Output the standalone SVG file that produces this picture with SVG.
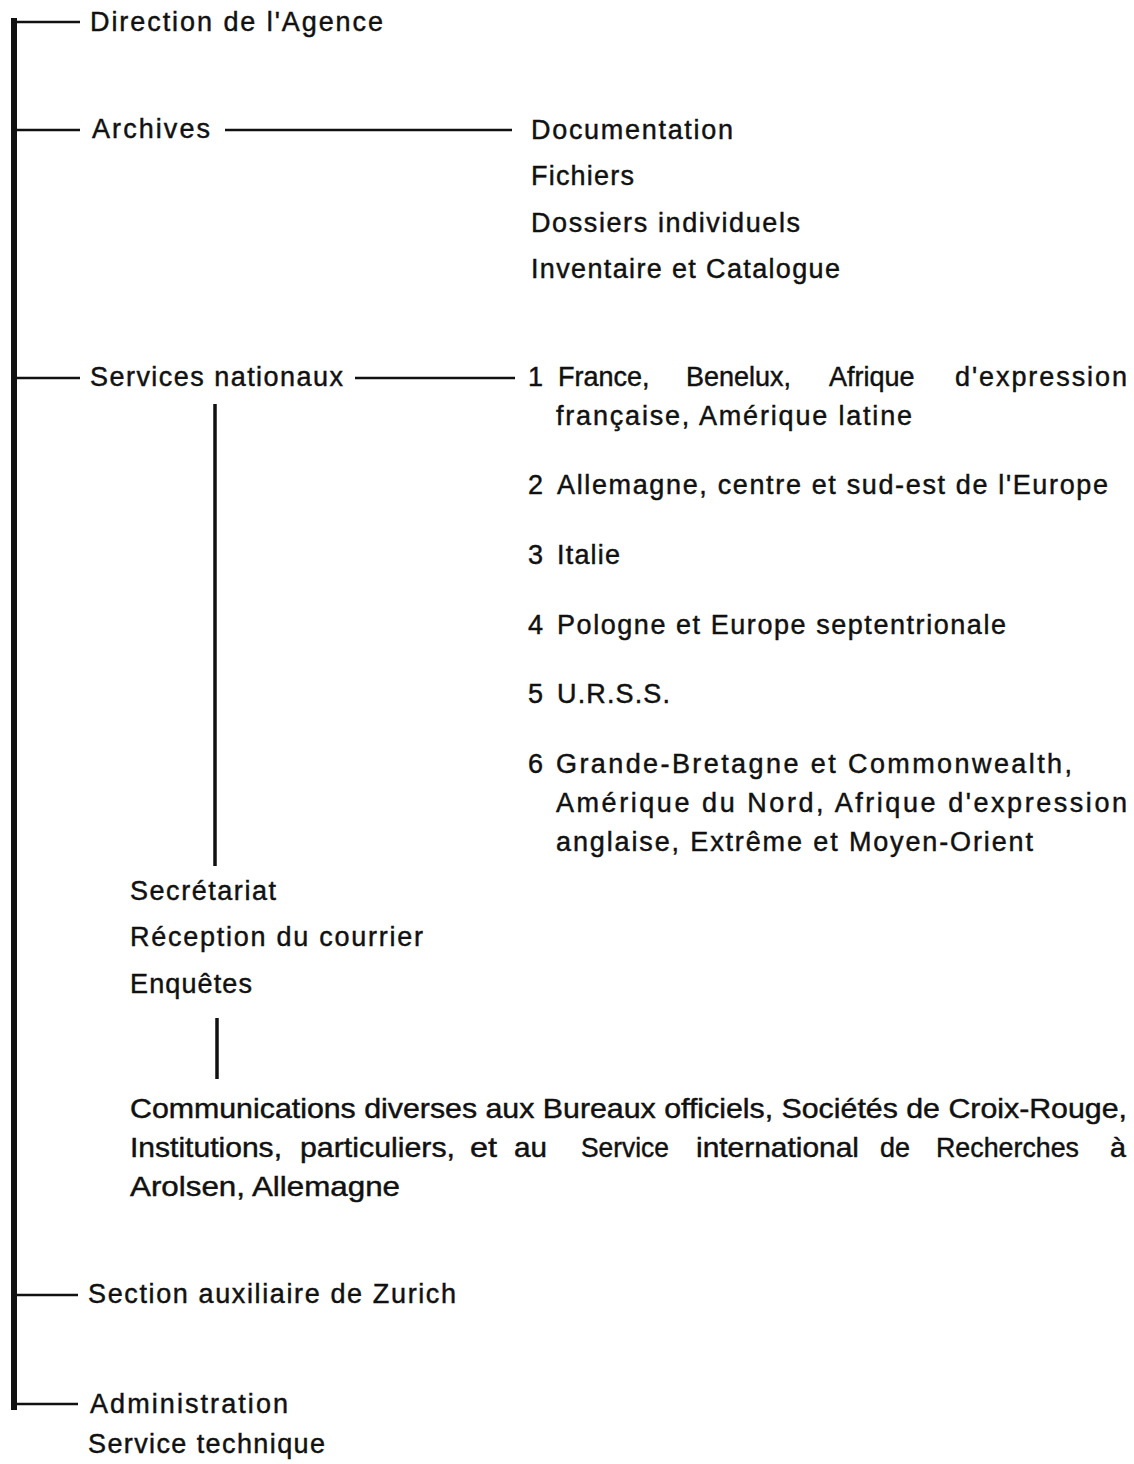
<svg xmlns="http://www.w3.org/2000/svg" width="1134" height="1464" viewBox="0 0 1134 1464">
<style>
  text { font-family: "Liberation Sans", Arial, sans-serif; font-size: 27px; fill: #111; stroke: #111; stroke-width: 0.45; }
  .cond { font-size: 28px; }
  .tick { stroke: #111; stroke-width: 2.5; fill: none; }
  .vline { stroke: #111; stroke-width: 3.5; fill: none; }
</style>
<rect width="1134" height="1464" fill="#fff"/>
<g id="connectors">
  <rect x="11" y="18" width="6" height="1392" fill="#111"/>
  <line class="tick" x1="17" y1="22" x2="80" y2="22"/>
  <line class="tick" x1="17" y1="130" x2="80" y2="130"/>
  <line class="tick" x1="17" y1="378" x2="80" y2="378"/>
  <line class="tick" x1="17" y1="1295" x2="78" y2="1295"/>
  <line class="tick" x1="17" y1="1404" x2="78" y2="1404"/>
  <line class="tick" x1="225" y1="130" x2="512" y2="130"/>
  <line class="tick" x1="355" y1="378" x2="515" y2="378"/>
  <line class="vline" x1="215" y1="404" x2="215" y2="866"/>
  <line class="vline" x1="217" y1="1018" x2="217" y2="1079"/>
</g>
<g id="direction">
  <text x="90" y="31" textLength="293" lengthAdjust="spacing">Direction de l'Agence</text>
</g>
<g id="archives">
  <text x="92" y="138" textLength="118" lengthAdjust="spacing">Archives</text>
</g>
<g id="archives-sub">
  <text x="531" y="139" textLength="202" lengthAdjust="spacing">Documentation</text>
  <text x="531" y="185" textLength="103" lengthAdjust="spacing">Fichiers</text>
  <text x="531" y="232" textLength="269" lengthAdjust="spacing">Dossiers individuels</text>
  <text x="531" y="278" textLength="309" lengthAdjust="spacing">Inventaire et Catalogue</text>
</g>
<g id="services">
  <text x="90" y="386" textLength="253" lengthAdjust="spacing">Services nationaux</text>
</g>
<g id="services-sub">
  <text x="528" y="386">1</text>
  <text x="558" y="386">France,</text>
  <text x="686" y="386">Benelux,</text>
  <text x="829" y="386">Afrique</text>
  <text x="955" y="386" textLength="172" lengthAdjust="spacing">d'expression</text>
  <text x="556" y="425" textLength="356" lengthAdjust="spacing">française, Amérique latine</text>
  <text x="528" y="494">2</text>
  <text x="557" y="494" textLength="551" lengthAdjust="spacing">Allemagne, centre et sud-est de l'Europe</text>
  <text x="528" y="564">3</text>
  <text x="557" y="564" textLength="63" lengthAdjust="spacing">Italie</text>
  <text x="528" y="634">4</text>
  <text x="557" y="634" textLength="449" lengthAdjust="spacing">Pologne et Europe septentrionale</text>
  <text x="528" y="703">5</text>
  <text x="557" y="703" textLength="113" lengthAdjust="spacing">U.R.S.S.</text>
  <text x="528" y="773">6</text>
  <text x="556" y="773" textLength="516" lengthAdjust="spacing">Grande-Bretagne et Commonwealth,</text>
  <text x="556" y="812" textLength="571" lengthAdjust="spacing">Amérique du Nord, Afrique d'expression</text>
  <text x="556" y="851" textLength="477" lengthAdjust="spacing">anglaise, Extrême et Moyen-Orient</text>
</g>
<g id="secretariat">
  <text x="130" y="900" textLength="146" lengthAdjust="spacing">Secrétariat</text>
  <text x="130" y="946" textLength="293" lengthAdjust="spacing">Réception du courrier</text>
  <text x="130" y="993" textLength="122" lengthAdjust="spacing">Enquêtes</text>
</g>
<g id="communications">
  <text class="cond" x="130" y="1118" textLength="997" lengthAdjust="spacingAndGlyphs">Communications diverses aux Bureaux officiels, Sociétés de Croix-Rouge,</text>
  <text class="cond" x="130" y="1157" textLength="152" lengthAdjust="spacingAndGlyphs">Institutions,</text>
  <text class="cond" x="300" y="1157" textLength="155" lengthAdjust="spacingAndGlyphs">particuliers,</text>
  <text class="cond" x="470" y="1157" textLength="27" lengthAdjust="spacingAndGlyphs">et</text>
  <text class="cond" x="514" y="1157" textLength="33" lengthAdjust="spacingAndGlyphs">au</text>
  <text class="cond" x="581" y="1157" textLength="88" lengthAdjust="spacingAndGlyphs">Service</text>
  <text class="cond" x="696" y="1157" textLength="163" lengthAdjust="spacingAndGlyphs">international</text>
  <text class="cond" x="880" y="1157" textLength="30" lengthAdjust="spacingAndGlyphs">de</text>
  <text class="cond" x="936" y="1157" textLength="143" lengthAdjust="spacingAndGlyphs">Recherches</text>
  <text class="cond" x="1110" y="1157" textLength="16" lengthAdjust="spacingAndGlyphs">à</text>
  <text class="cond" x="130" y="1196" textLength="270" lengthAdjust="spacingAndGlyphs">Arolsen, Allemagne</text>
</g>
<g id="zurich">
  <text x="88" y="1303" textLength="368" lengthAdjust="spacing">Section auxiliaire de Zurich</text>
</g>
<g id="administration">
  <text x="90" y="1413" textLength="198" lengthAdjust="spacing">Administration</text>
  <text x="88" y="1453" textLength="237" lengthAdjust="spacing">Service technique</text>
</g>
</svg>
